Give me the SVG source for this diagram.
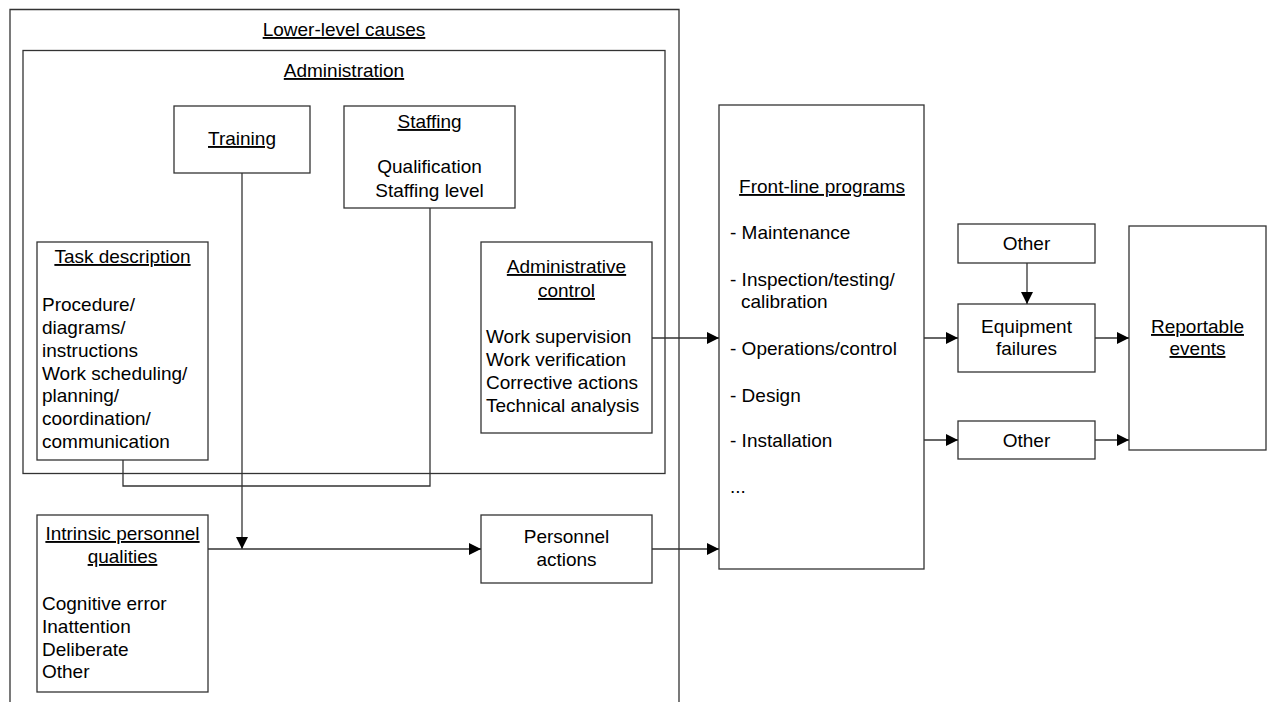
<svg xmlns="http://www.w3.org/2000/svg" width="1271" height="702" viewBox="0 0 1271 702">
  <style>
    text { font-family: "Liberation Sans", Arial, sans-serif; font-size: 19px; fill: #000; }
    .c { text-anchor: middle; }
    .u { text-decoration: underline; }
    .box { fill: none; stroke: #333; stroke-width: 1.3; }
    .wire { fill: none; stroke: #333; stroke-width: 1.3; }
  </style>
  <defs>
    <marker id="arrow" viewBox="0 0 12 12" refX="12" refY="6" markerWidth="12" markerHeight="12" markerUnits="userSpaceOnUse" orient="auto">
      <path d="M0,0 L12,6 L0,12 Z" fill="#000"/>
    </marker>
  </defs>
  <rect width="1271" height="702" fill="#fff"/>

  <!-- outer frame, open at the bottom -->
  <g id="lower-level-causes">
    <path class="box" d="M10,702 V9.5 H679 V702"/>
    <text class="c u" x="344" y="36">Lower-level causes</text>
  </g>

  <g id="administration">
    <rect class="box" x="23" y="50.5" width="642" height="423"/>
    <text class="c u" x="344" y="77">Administration</text>
  </g>

  <g id="training">
    <rect class="box" x="174" y="106" width="136" height="67"/>
    <text class="c u" x="242" y="145">Training</text>
  </g>

  <g id="staffing">
    <rect class="box" x="344" y="106" width="171" height="102"/>
    <text class="c u" x="429.5" y="128">Staffing</text>
    <text class="c" x="429.5" y="173">Qualification</text>
    <text class="c" x="429.5" y="197">Staffing level</text>
  </g>

  <g id="task-description">
    <rect class="box" x="37" y="242" width="171" height="218"/>
    <text class="c u" x="122.5" y="263">Task description</text>
    <text x="42" y="311">Procedure/</text>
    <text x="42" y="334">diagrams/</text>
    <text x="42" y="357">instructions</text>
    <text x="42" y="380">Work scheduling/</text>
    <text x="42" y="402">planning/</text>
    <text x="42" y="425">coordination/</text>
    <text x="42" y="448">communication</text>
  </g>

  <g id="administrative-control">
    <rect class="box" x="481" y="242" width="171" height="191"/>
    <text class="c u" x="566.5" y="273">Administrative</text>
    <text class="c u" x="566.5" y="297">control</text>
    <text x="486" y="343">Work supervision</text>
    <text x="486" y="366">Work verification</text>
    <text x="486" y="389">Corrective actions</text>
    <text x="486" y="412">Technical analysis</text>
  </g>

  <g id="intrinsic-qualities">
    <rect class="box" x="37" y="515" width="171" height="177"/>
    <text class="c u" x="122.5" y="540">Intrinsic personnel</text>
    <text class="c u" x="122.5" y="563">qualities</text>
    <text x="42" y="610">Cognitive error</text>
    <text x="42" y="633">Inattention</text>
    <text x="42" y="656">Deliberate</text>
    <text x="42" y="678">Other</text>
  </g>

  <g id="personnel-actions">
    <rect class="box" x="481" y="515" width="171" height="68"/>
    <text class="c" x="566.5" y="543">Personnel</text>
    <text class="c" x="566.5" y="566">actions</text>
  </g>

  <g id="front-line-programs">
    <rect class="box" x="719" y="105" width="205" height="464"/>
    <text class="c u" x="822" y="193">Front-line programs</text>
    <text x="730" y="239">- Maintenance</text>
    <text x="730" y="286">- Inspection/testing/</text>
    <text x="741" y="308">calibration</text>
    <text x="730" y="355">- Operations/control</text>
    <text x="730" y="402">- Design</text>
    <text x="730" y="447">- Installation</text>
    <text x="730" y="493">...</text>
  </g>

  <g id="other-top">
    <rect class="box" x="958" y="224" width="137" height="39"/>
    <text class="c" x="1026.5" y="250">Other</text>
  </g>

  <g id="equipment-failures">
    <rect class="box" x="958" y="304" width="137" height="68"/>
    <text class="c" x="1026.5" y="333">Equipment</text>
    <text class="c" x="1026.5" y="355">failures</text>
  </g>

  <g id="other-bottom">
    <rect class="box" x="958" y="421" width="137" height="38"/>
    <text class="c" x="1026.5" y="447">Other</text>
  </g>

  <g id="reportable-events">
    <rect class="box" x="1129" y="226" width="137" height="224"/>
    <text class="c u" x="1197.5" y="333">Reportable</text>
    <text class="c u" x="1197.5" y="355">events</text>
  </g>

  <g id="connectors">
    <polyline class="wire" points="123,460 123,486 430,486 430,208"/>
    <line class="wire" x1="242" y1="173" x2="242" y2="549" marker-end="url(#arrow)"/>
    <line class="wire" x1="208" y1="549" x2="481" y2="549" marker-end="url(#arrow)"/>
    <line class="wire" x1="652" y1="549" x2="719" y2="549" marker-end="url(#arrow)"/>
    <line class="wire" x1="652" y1="338" x2="719" y2="338" marker-end="url(#arrow)"/>
    <line class="wire" x1="924" y1="338" x2="958" y2="338" marker-end="url(#arrow)"/>
    <line class="wire" x1="924" y1="440" x2="958" y2="440" marker-end="url(#arrow)"/>
    <line class="wire" x1="1027" y1="263" x2="1027" y2="304" marker-end="url(#arrow)"/>
    <line class="wire" x1="1095" y1="338" x2="1129" y2="338" marker-end="url(#arrow)"/>
    <line class="wire" x1="1095" y1="440" x2="1129" y2="440" marker-end="url(#arrow)"/>
  </g>
</svg>
